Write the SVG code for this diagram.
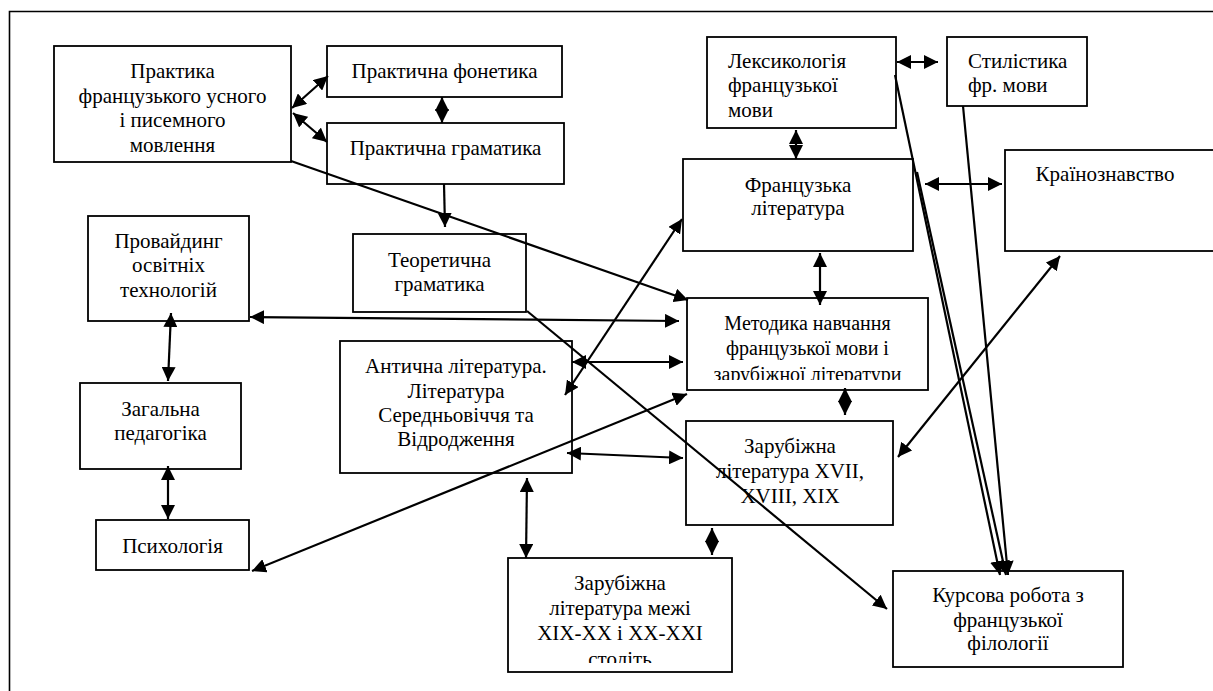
<svg xmlns="http://www.w3.org/2000/svg" width="1213" height="691" viewBox="0 0 1213 691">
<style>
.box{fill:#fff;stroke:#000;stroke-width:1.8}
text{font-family:"Liberation Serif",serif;font-size:21px;fill:#000}
.c{text-anchor:middle}
.s20{font-size:20px}
#connectors line{stroke:#000;stroke-width:2.2;fill:none}
</style>
<defs>
<marker id="a" markerUnits="userSpaceOnUse" markerWidth="14" markerHeight="14" refX="14" refY="7" orient="auto-start-reverse" viewBox="0 0 14 14">
<path d="M0,0 L14,7 L0,14 z" fill="#000"/>
</marker>
<clipPath id="clipM"><rect x="687" y="298" width="241" height="82"/></clipPath>
<clipPath id="clipZ"><rect x="508" y="558" width="224" height="105"/></clipPath>
</defs>
<rect width="1213" height="691" fill="#fff"/>
<path d="M9.5,691 V11.5 H1213" fill="none" stroke="#000" stroke-width="1.6"/>

<g id="n-praktyka"><rect class="box" x="54" y="46" width="237" height="116"/>
<text class="c" x="172.5" y="78">Практика</text><text class="c" x="172.5" y="103">французького усного</text><text class="c" x="172.5" y="127">і писемного</text><text class="c" x="172.5" y="152">мовлення</text></g>

<g id="n-fonetyka"><rect class="box" x="327" y="46" width="235" height="51"/>
<text class="c" x="444.5" y="78">Практична фонетика</text></g>

<g id="n-gramatyka"><rect class="box" x="327" y="123" width="237" height="61"/>
<text class="c" x="445.5" y="155">Практична граматика</text></g>

<g id="n-teor"><rect class="box" x="353" y="234" width="173" height="78"/>
<text class="c" x="439.5" y="267">Теоретична</text><text class="c" x="439.5" y="291">граматика</text></g>

<g id="n-leks"><rect class="box" x="707" y="37" width="189" height="91"/>
<text x="728" y="68">Лексикологія</text><text x="728" y="92">французької</text><text x="728" y="117">мови</text></g>

<g id="n-styl"><rect class="box" x="947" y="37" width="140" height="69"/>
<text x="968" y="68">Стилістика</text><text x="968" y="92">фр. мови</text></g>

<g id="n-franc-lit"><rect class="box" x="683" y="159" width="230" height="92"/>
<text class="c" x="798" y="192">Французька</text><text class="c" x="798" y="215">література</text></g>

<g id="n-kraino"><rect class="box" x="1005" y="150" width="215" height="101"/>
<text class="c" x="1105" y="181">Країнознавство</text></g>

<g id="n-provaid"><rect class="box" x="88" y="216" width="161" height="105"/>
<text class="c" x="168.5" y="248">Провайдинг</text><text class="c" x="168.5" y="272">освітніх</text><text class="c" x="168.5" y="297">технологій</text></g>

<g id="n-zag-ped"><rect class="box" x="80" y="383" width="161" height="86"/>
<text class="c" x="160.5" y="416">Загальна</text><text class="c" x="160.5" y="440">педагогіка</text></g>

<g id="n-psych"><rect class="box" x="96" y="520" width="153" height="50"/>
<text class="c" x="172.5" y="553">Психологія</text></g>

<g id="n-antych"><rect class="box" x="340" y="341" width="232" height="132"/>
<text class="c" x="456" y="373">Антична література.</text><text class="c" x="456" y="398">Література</text><text class="c" x="456" y="422">Середньовіччя та</text><text class="c" x="456" y="446">Відродження</text></g>

<g id="n-metod"><rect class="box" x="687" y="298" width="241" height="92"/>
<g clip-path="url(#clipM)"><text class="c s20" x="807.5" y="330">Методика навчання</text><text class="c s20" x="807.5" y="355">французької мови і</text><text class="c s20" x="807.5" y="381">зарубіжної літератури</text></g></g>

<g id="n-zar17"><rect class="box" x="686" y="421" width="207" height="104"/>
<text class="c" x="790" y="453">Зарубіжна</text><text class="c" x="790" y="478">література XVII,</text><text class="c" x="790" y="503">XVIII, XIX</text></g>

<g id="n-zar-mezhi"><rect class="box" x="508" y="558" width="224" height="114"/>
<g clip-path="url(#clipZ)"><text class="c" x="620" y="590">Зарубіжна</text><text class="c" x="620" y="615">література межі</text><text class="c" x="620" y="640">XIX-XX і XX-XXI</text><text class="c" x="620" y="666">століть</text></g></g>

<g id="n-kursova"><rect class="box" x="893" y="571" width="230" height="96"/>
<text class="c" x="1008" y="602">Курсова робота з</text><text class="c" x="1008" y="627">французької</text><text class="c" x="1008" y="650">філології</text></g>

<g id="connectors">
<line x1="292" y1="108" x2="328" y2="76" marker-start="url(#a)" marker-end="url(#a)"/>
<line x1="293" y1="113" x2="327" y2="142" marker-start="url(#a)" marker-end="url(#a)"/>
<line x1="442" y1="97" x2="442" y2="123" marker-start="url(#a)" marker-end="url(#a)"/>
<line x1="444" y1="184" x2="445" y2="227" marker-end="url(#a)"/>
<line x1="291" y1="161" x2="688" y2="300" marker-end="url(#a)"/>
<line x1="250" y1="317" x2="679" y2="321" marker-start="url(#a)" marker-end="url(#a)"/>
<line x1="171" y1="313" x2="168" y2="381" marker-start="url(#a)" marker-end="url(#a)"/>
<line x1="168" y1="466" x2="168" y2="519" marker-start="url(#a)" marker-end="url(#a)"/>
<line x1="252" y1="571" x2="687" y2="394" marker-start="url(#a)" marker-end="url(#a)"/>
<line x1="572" y1="362" x2="683" y2="362" marker-start="url(#a)" marker-end="url(#a)"/>
<line x1="682" y1="219" x2="565" y2="395" marker-start="url(#a)" marker-end="url(#a)"/>
<line x1="567" y1="453" x2="683" y2="458" marker-start="url(#a)" marker-end="url(#a)"/>
<line x1="527" y1="478" x2="526" y2="558" marker-start="url(#a)" marker-end="url(#a)"/>
<line x1="712" y1="528" x2="712" y2="555" marker-start="url(#a)" marker-end="url(#a)"/>
<line x1="845" y1="388" x2="845" y2="415" marker-start="url(#a)" marker-end="url(#a)"/>
<line x1="820" y1="253" x2="820" y2="305" marker-start="url(#a)" marker-end="url(#a)"/>
<line x1="796" y1="130" x2="796" y2="159" marker-start="url(#a)" marker-end="url(#a)"/>
<line x1="897" y1="62" x2="938" y2="62" marker-start="url(#a)" marker-end="url(#a)"/>
<line x1="925" y1="184" x2="1002" y2="184" marker-start="url(#a)" marker-end="url(#a)"/>
<line x1="1060" y1="256" x2="898" y2="457" marker-start="url(#a)" marker-end="url(#a)"/>
<line x1="527" y1="311" x2="887" y2="609" marker-end="url(#a)"/>
<line x1="895" y1="75" x2="1000" y2="575" marker-end="url(#a)"/>
<line x1="917" y1="172" x2="1006" y2="575" marker-end="url(#a)"/>
<line x1="963" y1="106" x2="1008" y2="575" marker-end="url(#a)"/>
</g>
</svg>
